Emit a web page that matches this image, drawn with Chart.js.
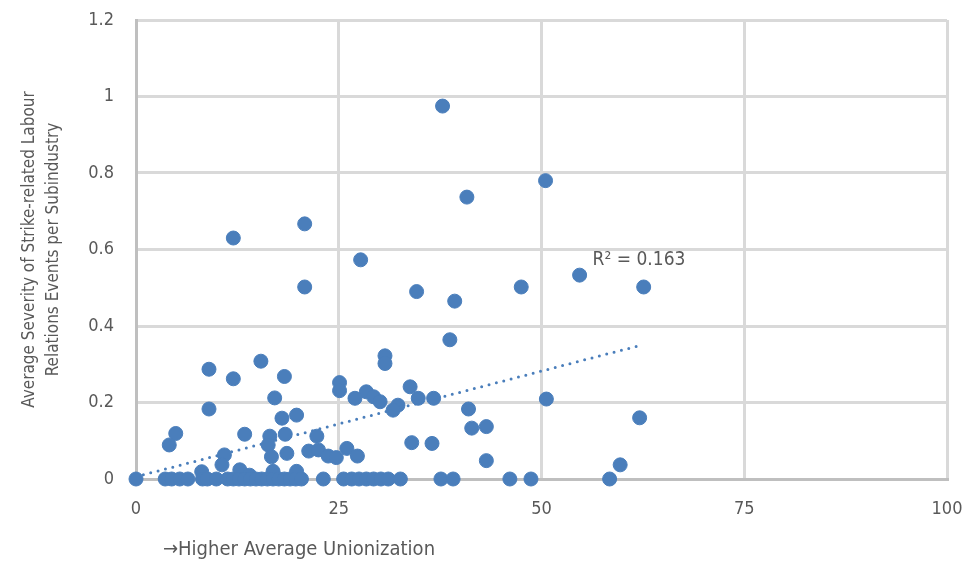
<!DOCTYPE html>
<html>
<head>
<meta charset="utf-8">
<title>Unionization vs strike severity</title>
<script src="https://cdn.jsdelivr.net/npm/chart.js@4.4.1/dist/chart.umd.min.js"></script>
<style>
  html, body { margin: 0; padding: 0; background: #ffffff; }
  #wrap { width: 969px; height: 563px; position: relative; }
</style>
</head>
<body>
<div id="wrap"><canvas id="chart"></canvas></div>
<script>
// Average unionization (x) and average strike severity (y) per subindustry
const unionization = [
  37.8, 50.5, 40.8, 20.8, 12.0, 27.7, 54.7, 20.8, 47.5, 62.6, 34.6, 39.3,
  38.7, 30.7, 30.7, 15.4, 9.0, 12.0, 18.3, 25.1, 25.1, 33.8, 28.4, 17.1,
  27.0, 29.3, 30.1, 34.8, 36.7, 50.6, 32.3, 31.7, 9.0, 41.0, 19.8, 18.0,
  62.1, 43.2, 41.4, 4.9, 13.4, 16.5, 18.4, 22.3, 34.0, 36.5, 16.3, 4.1,
  26.0, 21.3, 22.5, 18.6, 10.9, 16.7, 23.7, 24.7, 27.3, 43.2, 10.6, 59.7,
  12.8, 8.1, 16.9, 19.8, 14.0,
  0, 3.6, 4.4, 5.4, 6.4, 8.2, 8.8, 9.9, 11.3, 12.0, 12.7, 13.4, 14.1, 14.8,
  15.5, 16.2, 16.9, 17.6, 18.3, 19.0, 19.7, 20.4, 23.1, 25.6, 26.6, 27.5,
  28.4, 29.3, 30.2, 31.1, 32.6, 37.6, 39.1, 46.1, 48.7, 58.4
];
const severity = [
  0.975, 0.78, 0.737, 0.667, 0.63, 0.573, 0.533, 0.502, 0.502, 0.502, 0.49, 0.465,
  0.364, 0.322, 0.302, 0.308, 0.287, 0.262, 0.268, 0.252, 0.231, 0.241, 0.228, 0.212,
  0.211, 0.215, 0.202, 0.211, 0.211, 0.209, 0.193, 0.18, 0.183, 0.183, 0.167, 0.159,
  0.16, 0.137, 0.133, 0.119, 0.117, 0.112, 0.117, 0.112, 0.095, 0.093, 0.089, 0.089,
  0.08, 0.073, 0.076, 0.067, 0.063, 0.058, 0.06, 0.056, 0.06, 0.048, 0.037, 0.037,
  0.024, 0.019, 0.02, 0.02, 0.01,
  0, 0, 0, 0, 0, 0, 0, 0, 0, 0, 0, 0, 0, 0,
  0, 0, 0, 0, 0, 0, 0, 0, 0, 0, 0, 0,
  0, 0, 0, 0, 0, 0, 0, 0, 0, 0
];

// Linear trendline end points, as drawn in the source
const trendX = [0, 62.3];
const trendY = [0.006, 0.35];
const rSquared = '0.163';

const xTicks = [0, 25, 50, 75, 100];
const yTicks = [0, 0.2, 0.4, 0.6, 0.8, 1, 1.2];

const blue = '#4a7ebb';
const textGrey = '#595959';
const narrow = "'DejaVu Sans Condensed', 'Liberation Sans Narrow', sans-serif";

const points = unionization.map((x, i) => ({ x: x, y: severity[i] }));
const trend = trendX.map((x, i) => ({ x: x, y: trendY[i] }));

// Draws the x axis caption and the R² note
const annotations = {
    id: 'annotations',
    afterDraw(chart) {
        const c = chart.ctx;
        const area = chart.chartArea;
        const xs = chart.scales.x;
        const ys = chart.scales.y;
        c.save();
        c.fillStyle = textGrey;
        c.font = '20px ' + narrow;
        c.textBaseline = 'middle';
        c.textAlign = 'left';
        c.fillText('\u2192Higher Average Unionization', area.left + 27, 550);
        c.font = '19px ' + narrow;
        c.fillText('R\u00b2 = ' + rSquared, xs.getPixelForValue(56.3), ys.getPixelForValue(0.573));
        c.restore();
    }
};

const ctx = document.getElementById('chart').getContext('2d');
new Chart(ctx, {
    data: {
        datasets: [
            {
                type: 'scatter',
                data: points,
                backgroundColor: blue,
                borderColor: blue,
                borderWidth: 1,
                pointRadius: 7,
                clip: false,
                order: 0
            },
            {
                type: 'line',
                data: trend,
                borderColor: blue,
                borderWidth: 3,
                borderDash: [0, 7.6],
                borderCapStyle: 'round',
                pointRadius: 0,
                fill: false,
                order: 1
            }
        ]
    },
    options: {
        responsive: true,
        maintainAspectRatio: false,
        animation: false,
        layout: { padding: { left: 18, top: 20, right: 22, bottom: 0 } },
        plugins: {
            legend: { display: false },
            tooltip: { enabled: false }
        },
        scales: {
            x: {
                type: 'linear',
                min: 0,
                max: 100,
                afterBuildTicks: (s) => { s.ticks = xTicks.map(v => ({ value: v })); },
                afterFit: (s) => {
                    s.height = 84;
                    s.paddingLeft = 0;
                    s.paddingRight = 0;
                },
                grid: { color: '#d9d9d9', lineWidth: 3, drawTicks: false },
                border: { color: '#bfbfbf', width: 3 },
                ticks: { color: textGrey, font: { family: narrow, size: 18 }, padding: 20 }
            },
            y: {
                type: 'linear',
                min: 0,
                max: 1.2,
                afterBuildTicks: (s) => { s.ticks = yTicks.map(v => ({ value: v })); },
                afterFit: (s) => {
                    s.width = 118;
                    s.paddingTop = 0;
                    s.paddingBottom = 0;
                },
                grid: { color: '#d9d9d9', lineWidth: 3, drawTicks: false },
                border: { color: '#bfbfbf', width: 3 },
                ticks: {
                    color: textGrey,
                    font: { family: narrow, size: 18 },
                    padding: 22,
                    callback: (v) => String(v)
                },
                title: {
                    display: true,
                    text: ['Average Severity of Strike-related Labour', 'Relations Events per Subindustry'],
                    color: textGrey,
                    font: { family: narrow, size: 17, lineHeight: 1.4 },
                    padding: 0
                }
            }
        }
    },
    plugins: [annotations]
});
</script>
</body>
</html>
